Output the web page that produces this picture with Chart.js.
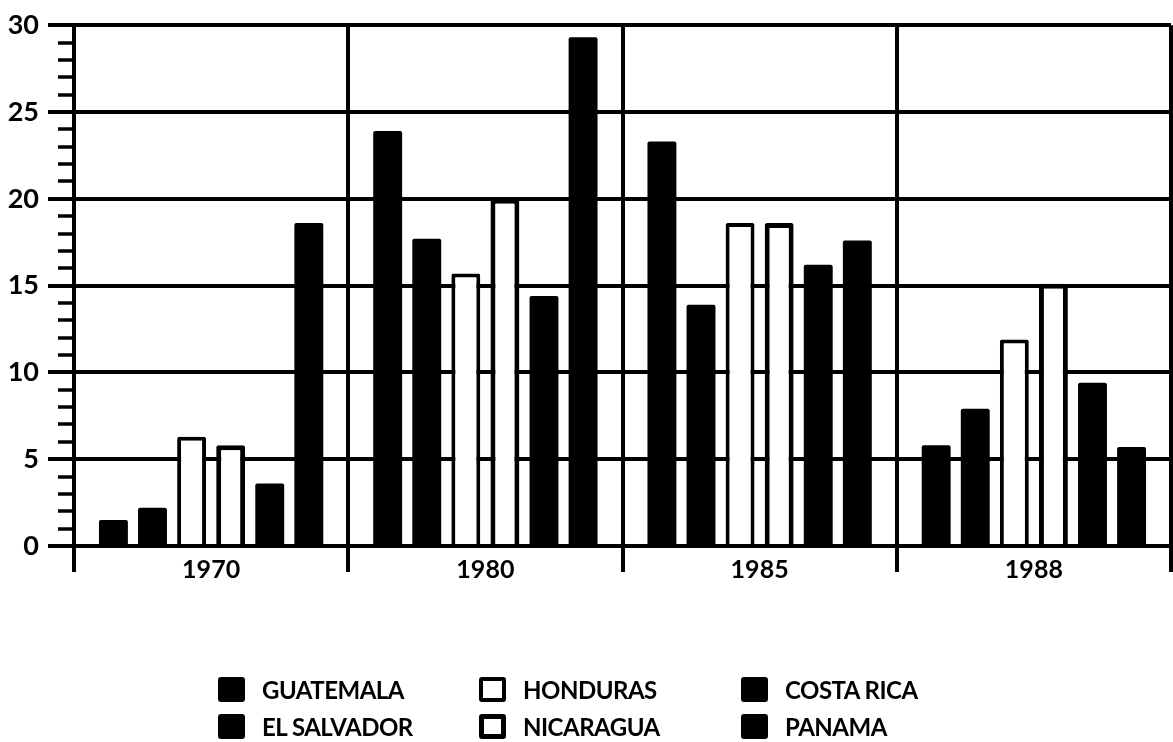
<!DOCTYPE html>
<html>
<head>
<meta charset="utf-8">
<script src="https://cdn.jsdelivr.net/npm/chart.js@4/dist/chart.umd.min.js"></script>
<style>
  html, body { margin: 0; padding: 0; background: #fff; }
  #wrap { position: relative; width: 1173px; height: 742px; font-family: Lato, sans-serif; }
  #box { position: absolute; left: 0; top: 0; width: 1173px; height: 600px; }
  #legend { position: absolute; left: 0; top: 0; width: 1173px; height: 742px; pointer-events: none; }
  .item { position: absolute; display: flex; align-items: center; height: 28px;
          font-weight: 700; font-size: 24px; color: #000; letter-spacing: -0.5px; }
  .sw { box-sizing: border-box; width: 27px; height: 25px; border-radius: 3px; margin-right: 17px; }
</style>
</head>
<body>
<div id="wrap">
  <div id="box"><canvas id="chart"></canvas></div>
  <div id="legend"></div>
</div>
<script>
const years = ["1970", "1980", "1985", "1988"];
const countries = ["GUATEMALA", "EL SALVADOR", "HONDURAS", "NICARAGUA", "COSTA RICA", "PANAMA"];

const guatemala  = [1.5, 23.9, 23.3, 5.8];
const elSalvador = [2.2, 17.7, 13.9, 7.9];
const honduras   = [6.3, 15.7, 18.6, 11.9];
const nicaragua  = [5.8, 20.0, 18.6, 15.1];
const costaRica  = [3.6, 14.4, 16.2, 9.4];
const panama     = [18.6, 29.3, 17.6, 5.7];

const yTicks = [0, 5, 10, 15, 20, 25, 30];

const values = [guatemala, elSalvador, honduras, nicaragua, costaRica, panama];
const fills = ["#000", "#000", "#fff", "#fff", "#000", "#000"];
const borders = [0, 0, 4, 5, 0, 0];

// small ticks between the labelled ones on the y axis
const minorTicks = {
  id: "minorTicks",
  afterDraw(chart) {
    const y = chart.scales.y;
    const ctx = chart.ctx;
    ctx.save();
    ctx.strokeStyle = "#000";
    ctx.lineWidth = 3.5;
    for (let v = 1; v < 30; v++) {
      if (v % 5 === 0) continue;
      const py = Math.round(y.getPixelForValue(v));
      ctx.beginPath();
      ctx.moveTo(58, py);
      ctx.lineTo(73, py);
      ctx.stroke();
    }
    ctx.restore();
  }
};

new Chart(document.getElementById("chart"), {
  type: "bar",
  data: {
    labels: years,
    datasets: countries.map((c, i) => ({
      label: c,
      data: values[i],
      backgroundColor: fills[i],
      borderColor: "#000",
      borderWidth: borders[i],
      borderSkipped: "bottom",
      borderRadius: 2,
      categoryPercentage: 0.855,
      barPercentage: 0.74
    }))
  },
  options: {
    responsive: true,
    maintainAspectRatio: false,
    animation: false,
    layout: { padding: { left: 0, right: 2, top: 20, bottom: 0 } },
    plugins: { legend: { display: false }, tooltip: { enabled: false } },
    scales: {
      x: {
        grid: { color: "#000", lineWidth: 4, tickLength: 26, offset: true },
        border: { color: "#000", width: 4 },
        ticks: { color: "#000", font: { family: "Lato", size: 25, weight: "bold" }, padding: -17 },
        afterFit(scale) { scale.height = 54; }
      },
      y: {
        min: 0,
        max: 30,
        afterBuildTicks(scale) { scale.ticks = yTicks.map(v => ({ value: v })); },
        grid: { color: "#000", lineWidth: 4, tickLength: 26 },
        border: { color: "#000", width: 4 },
        ticks: { color: "#000", font: { family: "Lato", size: 27, weight: "bold" }, padding: 9 },
        afterFit(scale) { scale.width = 74; }
      }
    }
  },
  plugins: [minorTicks]
});

// legend laid out in three columns of two, like the printed key
const legendPos = [
  [218, 675], [218, 712], [479, 675], [479, 712], [741, 675], [741, 712]
];
const legend = document.getElementById("legend");
countries.forEach((c, i) => {
  const it = document.createElement("div");
  it.className = "item";
  it.style.left = legendPos[i][0] + "px";
  it.style.top = legendPos[i][1] + "px";
  const sw = document.createElement("span");
  sw.className = "sw";
  sw.style.background = fills[i];
  sw.style.border = (borders[i] ? borders[i] : 0) + "px solid #000";
  it.appendChild(sw);
  it.appendChild(document.createTextNode(c));
  legend.appendChild(it);
});
</script>
</body>
</html>
